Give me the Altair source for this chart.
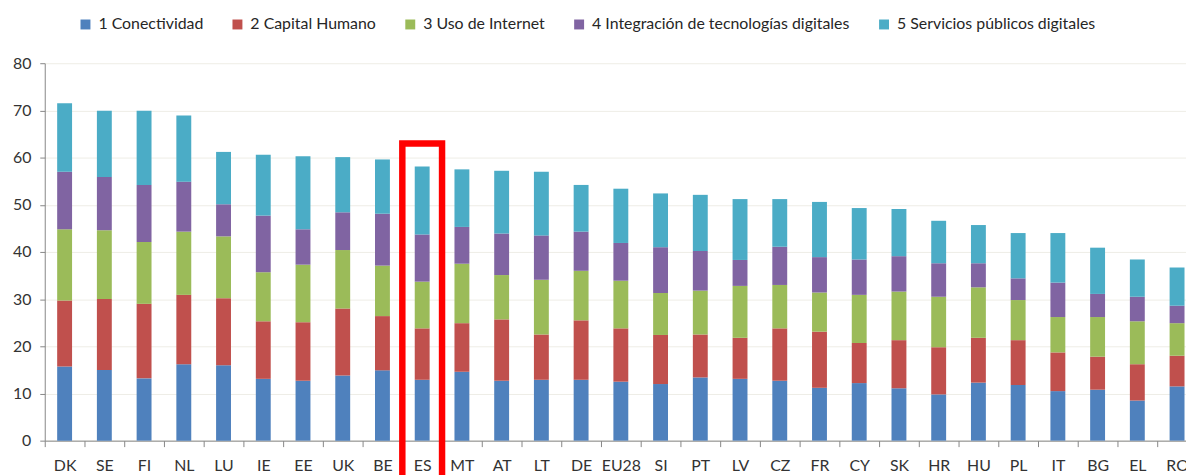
import altair as alt
import pandas as pd

countries = ["DK", "SE", "FI", "NL", "LU", "IE", "EE", "UK", "BE", "ES", "MT", "AT", "LT", "DE",
             "EU28", "SI", "PT", "LV", "CZ", "FR", "CY", "SK", "HR", "HU", "PL", "IT", "BG", "EL", "RO"]

series = ["1 Conectividad", "2 Capital Humano", "3 Uso de Internet",
          "4 Integración de tecnologías digitales", "5 Servicios públicos digitales"]

conectividad = [15.7, 15.0, 13.2, 16.2, 16.0, 13.1, 12.7, 13.8, 14.9, 12.9, 14.6, 12.7, 12.9, 12.9,
                12.5, 12.0, 13.4, 13.1, 12.7, 11.2, 12.2, 11.1, 9.8, 12.3, 11.8, 10.5, 10.8, 8.5, 11.5]
capital_humano = [14.0, 15.0, 15.8, 14.7, 14.2, 12.2, 12.4, 14.2, 11.5, 10.9, 10.3, 13.0, 9.6, 12.6,
                  11.3, 10.4, 9.1, 8.7, 11.1, 11.9, 8.5, 10.2, 10.0, 9.5, 9.5, 8.2, 7.0, 7.7, 6.5]
uso_internet = [15.1, 14.6, 13.1, 13.4, 13.1, 10.4, 12.2, 12.4, 10.7, 9.9, 12.6, 9.4, 11.6, 10.5,
                10.1, 8.9, 9.3, 11.0, 9.2, 8.3, 10.2, 10.3, 10.7, 10.7, 8.5, 7.5, 8.4, 9.1, 6.9]
integracion = [12.2, 11.3, 12.1, 10.6, 6.8, 12.0, 7.5, 8.0, 11.0, 10.0, 7.8, 8.8, 9.4, 8.3,
               8.0, 9.7, 8.4, 5.5, 8.1, 7.5, 7.5, 7.5, 7.1, 5.1, 4.6, 7.3, 4.9, 5.2, 3.7]
servicios = [14.5, 14.0, 15.7, 14.0, 11.1, 12.9, 15.5, 11.7, 11.5, 14.4, 12.2, 13.3, 13.5, 9.9,
             11.5, 11.4, 11.9, 12.9, 10.1, 11.7, 10.9, 10.0, 9.0, 8.1, 9.6, 10.5, 9.8, 7.9, 8.1]

colors = ["#4F81BD", "#C0504D", "#9BBB59", "#8064A2", "#4BACC6"]

highlight_country = ["ES"]
highlight_top = [63.0]
highlight_bottom = [-8.0]

all_values = [conectividad, capital_humano, uso_internet, integracion, servicios]
rows = []
for si, (name, vals) in enumerate(zip(series, all_values)):
    for c, v in zip(countries, vals):
        rows.append({"country": c, "series": name, "idx": si, "value": v})
df = pd.DataFrame(rows)

hl = pd.DataFrame({"country": highlight_country, "top": highlight_top, "bottom": highlight_bottom})

FONT = "Lato"
STEP = 40

x_enc = alt.X(
    "country:N",
    sort=countries,
    title=None,
    scale=alt.Scale(domain=countries, range=[0, STEP * len(countries)], paddingInner=0, paddingOuter=0),
    axis=alt.Axis(
        labelAngle=0, labelFont=FONT, labelFontSize=16, labelColor="#333333",
        labelPadding=11, tickBand="extent", tickSize=6, tickColor="#868686",
        domainColor="#868686", grid=False, labelOverlap=False,
    ),
)

bars = alt.Chart(df).mark_bar(size=15).encode(
    x=x_enc,
    y=alt.Y(
        "value:Q",
        stack="zero",
        title=None,
        scale=alt.Scale(domain=[0, 80], nice=False),
        axis=alt.Axis(
            values=[0, 10, 20, 30, 40, 50, 60, 70, 80],
            labelFont=FONT, labelFontSize=16, labelColor="#333333",
            labelPadding=9, tickSize=5, tickColor="#868686",
            domainColor="#868686", gridColor="#EEEDE6", gridWidth=1,
        ),
    ),
    color=alt.Color(
        "series:N",
        scale=alt.Scale(domain=series, range=colors),
        legend=alt.Legend(
            title=None, orient="none", direction="horizontal",
            legendX=33, legendY=-47,
            symbolType="square", symbolSize=100, symbolStrokeWidth=0,
            labelFont=FONT, labelFontSize=16, labelColor="#262626",
            columnPadding=26, labelOffset=5, labelLimit=400,
        ),
    ),
    order=alt.Order("idx:Q", sort="ascending"),
)

box = alt.Chart(hl).mark_rect(
    filled=False, stroke="#FF0000", strokeWidth=6.5, clip=False
).encode(
    x=alt.X("country:N", sort=countries,
            scale=alt.Scale(domain=countries, range=[0, STEP * len(countries)], paddingInner=0, paddingOuter=0)),
    y=alt.Y("top:Q"),
    y2="bottom:Q",
)

chart = alt.layer(bars, box).properties(
    width=1149,
    height=380,
    padding={"left": 37, "top": 54, "right": 0, "bottom": 33},
    autosize=alt.AutoSizeParams(type="none"),
    background="white",
).configure_view(stroke=None)

chart.save("out.html", embed_options={"renderer": "svg", "actions": False})
